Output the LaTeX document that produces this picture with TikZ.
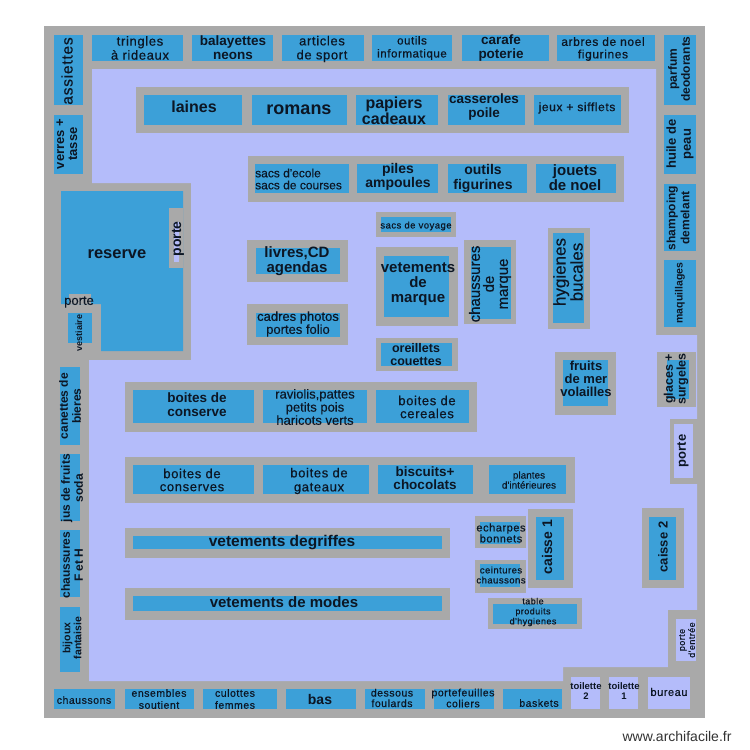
\documentclass[tikz,border=0pt]{standalone}
\usepackage{fontspec}
\setmainfont{Liberation Sans}
\newfontfamily\lsfam[LetterSpace=5,FakeBold=0.5]{Liberation Sans}
\newfontfamily\medfam[FakeBold=0.3]{Liberation Sans}
\definecolor{wallgrey}{HTML}{A9A9A9}
\definecolor{shelfblue}{HTML}{3CA0D8}
\definecolor{floorblue}{HTML}{B4BCFA}
\definecolor{ink}{HTML}{0C1624}
\tikzset{
  lab/.style={inner sep=0pt,align=center,text=ink},
  wall/.style={fill=wallgrey,draw=none},
  shelf/.style={fill=shelfblue,draw=none},
  floorarea/.style={fill=floorblue,draw=none}
}
\newcommand\wl[4]{\fill[wall] (#1,#2) rectangle (#3,#4);}
\newcommand\sh[4]{\fill[shelf] (#1,#2) rectangle (#3,#4);}
\newcommand\fl[4]{\fill[floorarea] (#1,#2) rectangle (#3,#4);}
% bold / medium / letter-spaced labels: [opts]{x}{y}{size}{leading}{text}
\newcommand\tB[6][]{\node[lab,font=\bfseries\fontsize{#4}{#5}\selectfont,#1] at (#2,#3) {#6};}
\newcommand\tR[6][]{\node[lab,font=\medfam\fontsize{#4}{#5}\selectfont,#1] at (#2,#3) {#6};}
\newcommand\tL[6][]{\node[lab,font=\lsfam\fontsize{#4}{#5}\selectfont,#1] at (#2,#3) {#6};}
\begin{document}
\begin{tikzpicture}[x=1pt,y=-1pt]
\useasboundingbox (0,0) rectangle (750,750);
\fill[white] (0,0) rectangle (750,750);
\wl{44}{26}{705}{718}
\fill[floorarea] (92,69) -- (656,69) -- (656,335) -- (697,335) -- (697,610) -- (668,610) -- (668,667) -- (563,667) -- (563,681) -- (89,681) -- (89,360) -- (191,360) -- (191,183) -- (92,183) -- cycle;
% reserve
\fill[shelf] (61,191) -- (183,191) -- (183,351) -- (101,351) -- (101,304) -- (61,304) -- cycle;
\wl{69}{294}{91}{304}
\sh{68}{313}{92}{343}
\wl{169}{208}{183}{268}
\fl{174}{222}{179}{262}
\tB{117}{254}{16.5}{18}{reserve}
\tB[rotate=90]{178}{239}{14}{16}{porte}
\tR{79}{302}{13}{14}{porte}
\tB[rotate=90]{79}{333}{9}{10}{vestiaire}
% top row
\sh{54}{35}{83}{105}
\sh{54}{115}{83}{174}
\sh{92}{35}{183}{61}
\sh{192}{35}{273}{61}
\sh{282}{35}{364}{61}
\sh{372}{35}{452}{61}
\sh{462}{35}{549}{61}
\sh{557}{35}{655}{61}
\tL[rotate=90]{67}{71}{15.5}{17}{assiettes}
\tB[rotate=90]{67}{144}{13}{13}{verres +\\tasse}
\tL{140}{48}{13}{14}{tringles\\à rideaux}
\tB{233}{48}{13.5}{14}{balayettes\\neons}
\tL{322}{49}{13}{14}{articles\\de sport}
\tL{412}{48}{11.5}{13}{outils\\informatique}
\tB{501}{48}{13.5}{14}{carafe\\poterie}
\tL{603}{49}{12}{12.5}{arbres de noel\\figurines}
% right col
\sh{664}{35}{696}{105}
\sh{664}{115}{696}{174}
\sh{664}{184}{696}{251}
\sh{664}{260}{696}{327}
\tB[rotate=90]{679}{69}{12}{13}{parfum\\deodorants}
\tB[rotate=90]{680}{144}{13}{15}{huile de\\peau}
\tB[rotate=90]{678}{218}{12}{14}{shampoing\\demelant}
\tB[rotate=90]{680}{293}{10.5}{12}{maquillages}
% row 1
\wl{136}{87}{629}{133}
\sh{144}{95}{242}{125}
\sh{252}{95}{347}{125}
\sh{356}{95}{438}{125}
\sh{448}{95}{525}{125}
\sh{534}{95}{621}{125}
\tB{194}{107}{16}{18}{laines}
\tB{299}{110}{18}{20}{romans}
\tB{394}{111}{16}{16}{papiers\\cadeaux}
\tB{484}{107}{13.5}{14}{casseroles\\poile}
\tL{577}{108}{12}{14}{jeux + sifflets}
% row 2
\wl{248}{156}{624}{202}
\sh{255}{164}{349}{193}
\sh{357}{164}{438}{193}
\sh{448}{164}{527}{193}
\sh{536}{164}{616}{193}
\tR[align=left,anchor=west]{255}{179}{12}{12}{sacs d'ecole\\sacs de courses}
\tB{398}{177}{14}{14}{piles\\ampoules}
\tB{483}{178}{14}{15}{outils\\figurines}
\tB{575}{178}{15}{15}{jouets\\de noel}
% middle isles
\wl{376}{212}{456}{237}
\sh{381}{217}{451}{232}
\tL{416}{226}{9.5}{11}{sacs de voyage}
\wl{376}{247}{458}{326}
\sh{384}{256}{449}{317}
\tB{418}{284}{15}{15}{vetements\\de\\marque}
\wl{464}{240}{516}{324}
\sh{471}{247}{511}{319}
\tR[rotate=90]{490}{284}{15}{14}{chaussures\\de\\marque}
\wl{548}{228}{590}{329}
\sh{553}{233}{584}{323}
\tR[rotate=90]{568}{272}{17}{17}{hygienes\\bucales}
\wl{247}{240}{348}{282}
\sh{256}{248}{340}{274}
\tB{297}{261}{15}{15}{livres,CD\\agendas}
\wl{247}{304}{348}{345}
\sh{256}{313}{340}{337}
\tR{298}{324}{13}{13}{cadres photos\\portes folio}
\wl{376}{338}{458}{371}
\sh{381}{343}{452}{366}
\tB{416}{355}{12.5}{13}{oreillets\\couettes}
% row 3
\wl{125}{382}{477}{432}
\sh{133}{390}{254}{423}
\sh{263}{390}{367}{423}
\sh{376}{390}{469}{423}
\tB{197}{405}{13.5}{14}{boites de\\conserve}
\tR{315}{407}{13}{12}{raviolis,pattes\\petits pois\\haricots verts}
\tL{427}{407}{13}{13}{boites de\\cereales}
% row 4
\wl{125}{457}{575}{503}
\sh{133}{465}{254}{494}
\sh{263}{465}{369}{494}
\sh{378}{465}{473}{494}
\sh{489}{465}{566}{494}
\tL{192}{480}{13}{13}{boites de\\conserves}
\tL{319}{481}{13}{14}{boites de\\gateaux}
\tB{425}{478}{13.5}{13}{biscuits+\\chocolats}
\tR{529}{480}{10}{10}{plantes\\d'intérieures}
% long shelves
\wl{125}{528}{450}{558}
\sh{133}{536}{442}{549}
\tB{282}{543}{15.5}{17}{vetements degriffes}
\wl{125}{588}{450}{620}
\sh{133}{596}{442}{611}
\tB{284}{602}{15}{16}{vetements de modes}
% checkout zone
\wl{475}{516}{526}{548}
\sh{480}{522}{520}{544}
\tL{501}{533}{11}{11}{echarpes\\bonnets}
\wl{475}{560}{526}{593}
\sh{480}{564}{520}{587}
\tL{501}{575}{9.5}{10}{ceintures\\chaussons}
\wl{528}{509}{573}{588}
\sh{536}{517}{564}{580}
\tB[rotate=90]{547}{547}{14}{16}{caisse 1}
\wl{642}{508}{684}{588}
\sh{649}{517}{676}{580}
\tB[rotate=90]{663}{547}{13}{15}{caisse 2}
\wl{488}{598}{582}{629}
\sh{493}{604}{577}{624}
\tL{533}{612}{9}{10}{table\\produits\\d'hygienes}
\wl{555}{352}{616}{415}
\sh{563}{360}{608}{406}
\tB{586}{379}{13}{13}{fruits\\de mer\\volailles}
\wl{657}{352}{696}{407}
\sh{667}{360}{689}{399}
\tB[rotate=90]{676}{379}{12.5}{11}{glaces +\\surgeles}
\wl{670}{419}{705}{484}
\fl{674}{424}{693}{478}
\tB[rotate=90]{683}{451}{13}{15}{porte}
\wl{668}{610}{705}{667}
\fl{676}{619}{696}{661}
\tL[rotate=90]{687}{640}{9}{10}{porte\\d'entrée}
% left col
\sh{60}{367}{80}{445}
\sh{60}{454}{80}{521}
\sh{60}{530}{80}{597}
\sh{60}{607}{80}{672}
\tB[rotate=90]{70}{406}{12}{13}{canettes de\\bieres}
\tB[rotate=90]{72}{488}{12}{13}{jus de fruits\\soda}
\tB[rotate=90]{72}{565}{12}{13}{chaussures\\F et H}
\tB[rotate=90]{72}{638}{10.5}{11}{bijoux\\fantaisie}
% bottom row
\sh{54}{689}{115}{709}
\sh{125}{689}{194}{709}
\sh{203}{689}{277}{709}
\sh{286}{689}{356}{709}
\sh{365}{689}{425}{709}
\sh{434}{689}{494}{709}
\sh{503}{689}{562}{709}
\fl{571}{677}{600}{709}
\fl{609}{677}{638}{709}
\fl{648}{677}{690}{709}
\tL{84}{700}{10.5}{12}{chaussons}
\tL{159}{699}{10.5}{12}{ensembles\\soutient}
\tL{235}{699}{10.5}{12}{culottes\\femmes}
\tB{320}{699}{14}{16}{bas}
\tL{392}{698}{10.5}{10.5}{dessous\\foulards}
\tL{463}{698}{10.5}{11}{portefeuilles\\coliers}
\tL{539}{703}{10.5}{12}{baskets}
\tB{586}{691}{9.5}{10}{toilette\\2}
\tB{624}{691}{9.5}{10}{toilette\\1}
\tL{669}{692}{11}{12}{bureau}
\node[lab,font=\fontsize{14}{16}\selectfont,text=black!80] at (677,736) {www.archifacile.fr};
\end{tikzpicture}
\end{document}
